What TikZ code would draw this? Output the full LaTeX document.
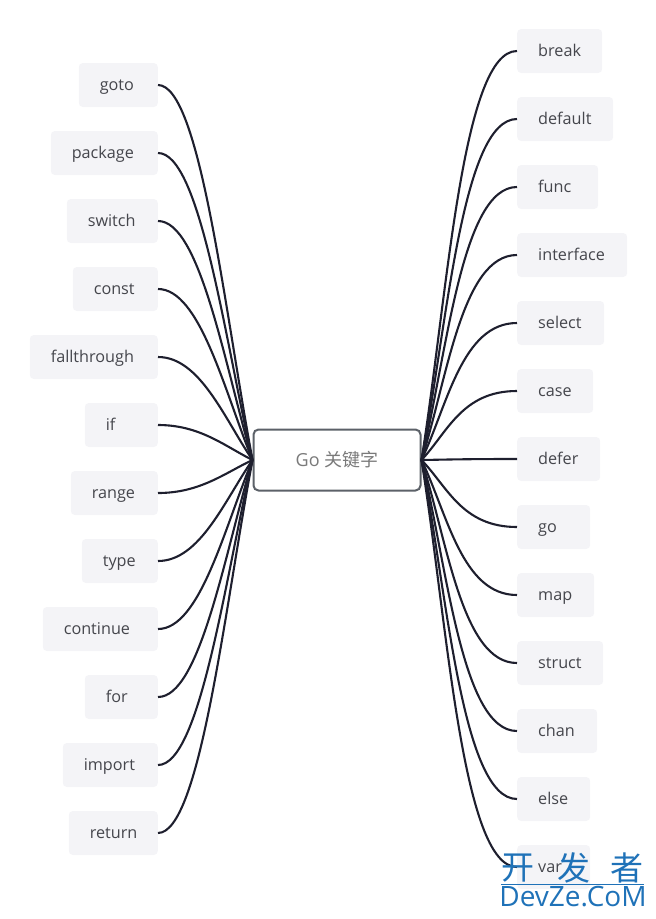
\documentclass[tikz,border=0pt]{standalone}
\usepackage{fontspec}
\setmainfont{Open Sans}
\newfontfamily\cjk{Noto Sans CJK SC}
\usetikzlibrary{calc}
\definecolor{boxgray}{HTML}{F4F4F7}
\definecolor{wordgray}{HTML}{45464C}
\definecolor{linkdark}{HTML}{1E1F2E}
\definecolor{hubedge}{HTML}{5C6168}
\definecolor{markblue}{HTML}{1F72B8}
\tikzset{
  word/.style={fill=boxgray,rounded corners=4pt,text=wordgray,minimum height=44pt,inner xsep=21pt,
    align=left,text height=13pt,text depth=2pt,font=\fontsize{16.2}{18}\selectfont},
  leftword/.style={word,anchor=east,text width=#1},
  rightword/.style={word,anchor=west,text width=#1},
  link/.style={linkdark,line width=2.1pt},
  hub/.style={draw=hubedge,line width=2pt,fill=white,rounded corners=5pt,minimum width=167pt,minimum height=61pt,text=black!52,font=\fontsize{18}{20}\selectfont},
  markcjk/.style={text=markblue,inner sep=0pt,font=\cjk\fontsize{33}{36}\selectfont},
}
\newcommand{\leftlink}[1]{\draw[link] (#1.east) .. controls +(42,0) and ($(hub.west)!0.4!(hub.west |- #1.east)+(-28,0)$) .. (hub.west);}
\newcommand{\rightlink}[1]{\draw[link] (#1.west) .. controls +(-55,0) and ($(hub.east)!0.4!(hub.east |- #1.west)+(26,0)$) .. (hub.east);}
\begin{document}
\begin{tikzpicture}[x=1pt,y=-1pt]
  \useasboundingbox (0,0) rectangle (656,919);
  % left column
  \node[leftword=37pt] (goto) at (158,85) {goto};
  \node[leftword=65pt] (package) at (158,153) {package};
  \node[leftword=49pt] (switch) at (158,221) {switch};
  \node[leftword=43pt] (const) at (158,289) {const};
  \node[leftword=86pt] (fallthrough) at (158,357) {fallthrough};
  \node[leftword=31pt] (if) at (158,425) {if};
  \node[leftword=45pt] (range) at (158,493) {range};
  \node[leftword=34pt] (type) at (158,561) {type};
  \node[leftword=73pt] (continue) at (158,629) {continue};
  \node[leftword=31pt] (for) at (158,697) {for};
  \node[leftword=53pt] (import) at (158,765) {import};
  \node[leftword=47pt] (return) at (158,833) {return};
  % right column
  \node[rightword=43pt] (break) at (517,51) {break};
  \node[rightword=54pt] (default) at (517,119) {default};
  \node[rightword=39pt] (func) at (517,187) {func};
  \node[rightword=68pt] (interface) at (517,255) {interface};
  \node[rightword=45pt] (select) at (517,323) {select};
  \node[rightword=34pt] (case) at (517,391) {case};
  \node[rightword=41pt] (defer) at (517,459) {defer};
  \node[rightword=31pt] (go) at (517,527) {go};
  \node[rightword=35pt] (map) at (517,595) {map};
  \node[rightword=44pt] (struct) at (517,663) {struct};
  \node[rightword=38pt] (chan) at (517,731) {chan};
  \node[rightword=31pt] (else) at (517,799) {else};
  \node[rightword=31pt] (var) at (517,867) {var};
  % centre
  \node[hub] (hub) at (337,460) {Go {\cjk 关键字}};
  \leftlink{goto}
  \leftlink{package}
  \leftlink{switch}
  \leftlink{const}
  \leftlink{fallthrough}
  \leftlink{if}
  \leftlink{range}
  \leftlink{type}
  \leftlink{continue}
  \leftlink{for}
  \leftlink{import}
  \leftlink{return}
  \rightlink{break}
  \rightlink{default}
  \rightlink{func}
  \rightlink{interface}
  \rightlink{select}
  \rightlink{case}
  \rightlink{defer}
  \rightlink{go}
  \rightlink{map}
  \rightlink{struct}
  \rightlink{chan}
  \rightlink{else}
  \rightlink{var}
  % watermark
  \node[markcjk] (markkai) at (518,868) {开};
  \node[markcjk] (markfa) at (574,868) {发};
  \node[markcjk] (markzhe) at (627,868) {者};
  \node[text=markblue,inner sep=0pt,font=\fontsize{28}{30}\selectfont] (markname) at (573,897) {DevZe.CoM};
  \draw[markblue,line width=0.6pt] (markkai.south west |- 0,884.5) -- (markzhe.south east |- 0,884.5);
\end{tikzpicture}
\end{document}
